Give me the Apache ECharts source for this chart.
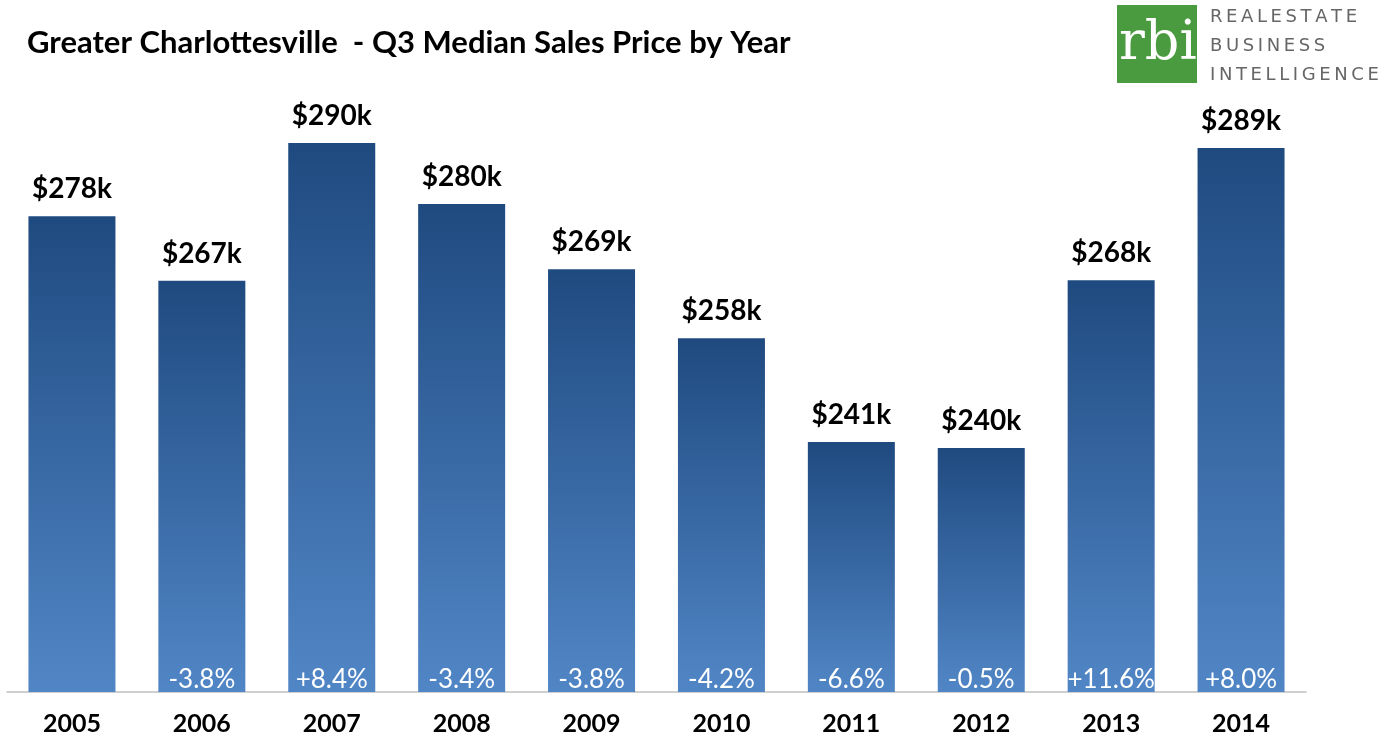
<!DOCTYPE html>
<html>
<head>
<meta charset="utf-8">
<script src="https://cdn.jsdelivr.net/npm/echarts@6/dist/echarts.min.js"></script>
<style>
  html, body { margin: 0; padding: 0; background: #fff; }
  #chart { width: 1397px; height: 740px; }
</style>
</head>
<body>
<div id="chart"></div>
<script>
// Q3 median sales price, in $ thousands
const years = ['2005', '2006', '2007', '2008', '2009', '2010', '2011', '2012', '2013', '2014']
const medianPrice = [278, 267.4, 290, 280, 269.3, 258, 241, 240, 267.5, 289.2]
const yearChange = ['', '-3.8%', '+8.4%', '-3.4%', '-3.8%', '-4.2%', '-6.6%', '-0.5%', '+11.6%', '+8.0%']

const FONT = 'Lato, "Open Sans", sans-serif'

// spread letters a bit, like the logo lettering
function spaced(s) {
  return s.split('').join('\u2009')
}

const chart = echarts.init(document.getElementById('chart'))

const barColor = new echarts.graphic.LinearGradient(0, 0, 0, 1, [
  { offset: 0, color: '#1f4a80' },
  { offset: 1, color: '#5186c6' }
])

chart.setOption({
  backgroundColor: '#fff',
  animation: false,
  title: {
    text: 'Greater Charlottesville  - Q3 Median Sales Price by Year',
    left: 22,
    top: 22,
    textStyle: {
      color: '#000',
      fontFamily: FONT,
      fontWeight: 'bold',
      fontSize: 31
    }
  },
  grid: {
    left: 7,
    right: 91,
    top: 82,
    bottom: 48
  },
  xAxis: {
    type: 'category',
    data: years,
    axisLine: { lineStyle: { color: '#c0c0c0', width: 1.5 } },
    axisTick: { show: false },
    axisLabel: {
      color: '#000',
      fontFamily: FONT,
      fontWeight: 'bold',
      fontSize: 25,
      margin: 19
    }
  },
  yAxis: {
    type: 'value',
    min: 200,
    max: 300,
    show: false,
    splitLine: { show: false }
  },
  series: [
    {
      name: 'price',
      type: 'bar',
      barWidth: 87,
      data: medianPrice,
      itemStyle: { color: barColor },
      label: {
        show: true,
        position: 'top',
        distance: 13,
        color: '#000',
        fontFamily: FONT,
        fontWeight: 'bold',
        fontSize: 28,
        formatter(p) {
          return '$' + Math.round(p.value) + 'k'
        }
      }
    },
    {
      name: 'change',
      type: 'bar',
      barWidth: 87,
      barGap: '-100%',
      data: medianPrice,
      itemStyle: { color: 'rgba(0,0,0,0)' },
      silent: true,
      label: {
        show: true,
        position: 'insideBottom',
        distance: -1,
        color: '#fff',
        fontFamily: FONT,
        fontSize: 26,
        formatter(p) {
          return yearChange[p.dataIndex]
        }
      }
    }
  ],
  graphic: [
    {
      type: 'rect',
      left: 1117,
      top: 5,
      shape: { width: 80, height: 78 },
      style: { fill: '#4a9a3f' }
    },
    {
      type: 'text',
      left: 1119,
      top: 18,
      style: {
        text: 'rbi',
        fill: '#fff',
        font: '54px "DejaVu Serif", serif'
      }
    },
    {
      type: 'text',
      left: 1210,
      top: 3,
      style: {
        text: [spaced('REALESTATE'), spaced('BUSINESS'), spaced('INTELLIGENCE')].join('\n'),
        fill: '#666',
        font: '18px "DejaVu Sans", sans-serif',
        lineHeight: 29
      }
    }
  ]
})
</script>
</body>
</html>
